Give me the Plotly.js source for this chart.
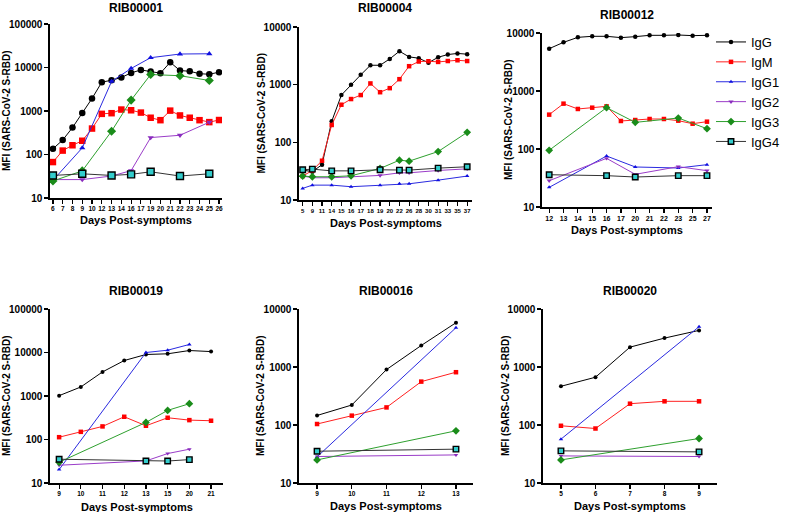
<!DOCTYPE html>
<html>
<head>
<meta charset="utf-8">
<script src="https://cdn.plot.ly/plotly-3.0.1.min.js"></script>
<style>html,body{margin:0;padding:0;background:#fff}#chart{width:785px;height:512px}</style>
</head>
<body>
<div id="chart"></div>
<script>
// ---------- DATA ----------
const seriesNames = ['IgG','IgM','IgG1','IgG2','IgG3','IgG4'];
const panelTitles = ['RIB00001','RIB00004','RIB00012','RIB00019','RIB00016','RIB00020'];

const p1Days = ['6','7','8','9','10','12','13','14','16','17','19','20','21','22','23','24','25','26'];
const p1IgG  = [135,215,415,905,1940,4600,5100,5900,7500,8800,8100,7400,13200,8500,8200,7200,7000,7800];
const p1IgM  = [67,123,163,207,395,860,890,1080,1040,920,700,615,1020,790,700,615,555,620];
const p1IgG1 = [25.5,null,null,142,null,null,4780,null,9500,null,16800,null,null,20400,null,null,20700,null];
const p1IgG2 = [26.5,null,null,26.5,null,null,32,null,42.6,null,245,null,null,277,null,null,553,null];
const p1IgG3 = [24.6,null,null,42,null,null,343,null,1780,null,6900,null,null,6470,null,null,5030,null];
const p1IgG4 = [33,null,null,36,null,null,33,null,35,null,40,null,null,32,null,null,36,null];

const p2Days = ['5','9','11','14','15','16','17','18','19','20','22','26','28','30','31','33','35','37'];
const p2IgG  = [33,31,41,231,660,1000,1480,2170,2170,2800,3800,3030,2880,2400,2990,3330,3480,3380];
const p2IgM  = [26,32.5,48,200,449,563,660,1050,740,870,1245,2090,2520,2550,2480,2570,2650,2570];
const p2IgG1 = [15.9,18.1,null,18.1,null,17,null,null,18,null,19.1,19.1,null,null,22.1,null,null,26];
const p2IgG2 = [26,24.3,null,24.3,null,25,null,null,26.7,null,29.6,29.6,null,null,32.5,null,null,34.7];
const p2IgG3 = [26,25.3,null,25.3,null,26.3,null,null,35.2,null,49,47.2,null,null,69.2,null,null,149];
const p2IgG4 = [33.4,34.3,null,32,null,32,null,null,33.4,null,33,33,null,null,35.7,null,null,37.7];

const p3Days = ['12','13','14','15','16','17','20','21','22','23','25','27'];
const p3IgG  = [5370,6900,8420,8770,8770,8320,8650,9120,9120,9240,9000,9120];
const p3IgM  = [391,605,490,516,544,304,316,329,329,308,273,296];
const p3IgG1 = [21.8,null,null,null,75.7,null,49,null,null,47,null,53.7];
const p3IgG2 = [28.4,null,null,null,69,null,36.6,null,null,49.6,null,42.3];
const p3IgG3 = [95,null,null,null,516,null,288,null,null,342,null,224];
const p3IgG4 = [36,null,null,null,34.7,null,32.9,null,null,34.7,null,34.7];

const p4Days = ['9','10','11','12','13','15','20','21'];
const p4IgG  = [1018,1613,3580,6540,9000,9330,11100,10500];
const p4IgM  = [113,150,200,333,207,316,279,270];
const p4IgG1 = [20.3,null,null,null,10000,11300,15300,null];
const p4IgG2 = [25.6,null,null,null,32.2,47.5,59.8,null];
const p4IgG3 = [30,null,null,null,247,467,665,null];
const p4IgG4 = [35.2,null,null,null,32,32,34.5,null];

const p5Days = ['9','10','11','12','13'];
const p5IgG  = [146,221,904,2350,5800];
const p5IgM  = [104,145,201,560,813];
const p5IgG1 = [28.2,null,null,null,4760];
const p5IgG2 = [28.6,null,null,null,30.5];
const p5IgG3 = [25,null,null,null,79.4];
const p5IgG4 = [35.3,null,null,null,38.3];

const p6Days = ['5','6','7','8','9'];
const p6IgG  = [465,666,2200,3150,4280];
const p6IgM  = [97,87,233,256,256];
const p6IgG1 = [57,null,null,null,4950];
const p6IgG2 = [29.3,null,null,null,28.6];
const p6IgG3 = [25,null,null,null,58.5];
const p6IgG4 = [35.8,null,null,null,34.4];

const yTickVals = [10,100,1000,10000,100000];
const yTickText = ['10','100','1000','10000','100000'];

// ---------- STYLE ----------
const FONT = 'Liberation Sans, Arial, sans-serif';
const W = 785, H = 512;
const styles = [
  {line:'#000000', fill:'#000000', border:'#000000', symbol:'circle'},
  {line:'#ff2020', fill:'#ff0000', border:'#ff0000', symbol:'square'},
  {line:'#2a2ae0', fill:'#1010e0', border:'#1010e0', symbol:'triangle-up'},
  {line:'#9a3cc8', fill:'#8a2cbe', border:'#8a2cbe', symbol:'triangle-down'},
  {line:'#2ea02e', fill:'#1a8c1a', border:'#1a8c1a', symbol:'diamond'},
  {line:'#333333', fill:'#33cccc', border:'#000000', symbol:'square'}
];

const panels = [
  {days:p1Days, s:[p1IgG,p1IgM,p1IgG1,p1IgG2,p1IgG3,p1IgG4], px:[50,222], py:[24,198], yr:[1,5], xr:[-0.3,17.3], ms:[6.5,6.5,5.5,5.5,7,7], tx:136, ty:8, ytx:6, xtY:220, tickF:6.5},
  {days:p2Days, s:[p2IgG,p2IgM,p2IgG1,p2IgG2,p2IgG3,p2IgG4], px:[299,472], py:[27,200], yr:[1,4], xr:[-0.38,17.5], ms:[4.5,4.5,4,4.5,6,5.5], tx:385, ty:8, ytx:261, xtY:223, tickF:6},
  {days:p3Days, s:[p3IgG,p3IgM,p3IgG1,p3IgG2,p3IgG3,p3IgG4], px:[542,712], py:[33,207], yr:[1,4], xr:[-0.5,11.35], ms:[4.5,4.5,4,4.5,6,5.5], tx:627, ty:15, ytx:508, xtY:230, tickF:7},
  {days:p4Days, s:[p4IgG,p4IgM,p4IgG1,p4IgG2,p4IgG3,p4IgG4], px:[50,223], py:[309,483], yr:[1,5], xr:[-0.42,7.55], ms:[4,4.5,4,4,6,5.5], tx:136, ty:291, ytx:6, xtY:507, tickF:6.5},
  {days:p5Days, s:[p5IgG,p5IgM,p5IgG1,p5IgG2,p5IgG3,p5IgG4], px:[299,473], py:[309,483], yr:[1,4], xr:[-0.52,4.49], ms:[4,4.5,4,4,6,5.5], tx:386, ty:291, ytx:260, xtY:506, tickF:6.5},
  {days:p6Days, s:[p6IgG,p6IgM,p6IgG1,p6IgG2,p6IgG3,p6IgG4], px:[543,717], py:[309,483], yr:[1,4], xr:[-0.52,4.52], ms:[4,4.5,4,4,6,5.5], tx:630, ty:291, ytx:505, xtY:506, tickF:6.5}
];

const data = [];
const layout = {
  width: W, height: H,
  margin: {l:0, r:0, t:0, b:0},
  paper_bgcolor: '#ffffff', plot_bgcolor: '#ffffff',
  font: {family: FONT, color: '#000'},
  showlegend: true,
  legend: {x: 1, y: 1 - 27/H, xanchor:'right', yanchor:'top', font:{family:FONT, size:13, color:'#000'}, bgcolor:'rgba(0,0,0,0)', tracegroupgap:0, borderwidth:0},
  annotations: []
};

panels.forEach((p, i) => {
  const k = i === 0 ? '' : String(i + 1);
  const xa = 'x' + k, ya = 'y' + k;
  p.s.forEach((vals, j) => {
    const st = styles[j];
    data.push({
      type:'scatter', mode:'lines+markers',
      x: p.days, y: vals, xaxis: xa, yaxis: ya,
      name: seriesNames[j], connectgaps: true,
      showlegend: i === 2, legendgroup: seriesNames[j],
      line: {color: st.line, width: 1},
      marker: {symbol: st.symbol, size: p.ms[j], color: st.fill, line: {color: st.border, width: j === 5 ? 1.4 : 0}}
    });
  });
  layout['xaxis' + k] = {
    domain: [p.px[0]/W, p.px[1]/W], anchor: ya,
    type: 'category', categoryorder: 'array', categoryarray: p.days,
    range: p.xr, showgrid: false, zeroline: false,
    showline: true, linecolor: '#000', linewidth: 1.6,
    ticks: 'outside', ticklen: 4, tickwidth: 1.2, tickcolor: '#000',
    tickangle: 0,
    tickfont: {family: FONT, size: p.tickF, weight: 'bold', color: '#000'},
    fixedrange: true
  };
  layout['yaxis' + k] = {
    domain: [1 - p.py[1]/H, 1 - p.py[0]/H], anchor: xa,
    type: 'log', range: p.yr, showgrid: false, zeroline: false,
    showline: true, linecolor: '#000', linewidth: 1.6,
    ticks: 'outside', ticklen: 4, tickwidth: 1.4, tickcolor: '#000',
    tickvals: yTickVals, ticktext: yTickText,
    tickfont: {family: FONT, size: 10, weight: 'bold', color: '#000'},
    fixedrange: true
  };
  layout.annotations.push({text: panelTitles[i], xref:'paper', yref:'paper', x: p.tx/W, y: 1 - p.ty/H,
    xanchor:'center', yanchor:'middle', showarrow:false, font:{family:FONT, size:12, weight:'bold', color:'#000'}});
  layout.annotations.push({text: 'MFI (SARS-CoV-2 S-RBD)', xref:'paper', yref:'paper', x: p.ytx/W, y: 1 - ((p.py[0]+p.py[1])/2)/H,
    xanchor:'center', yanchor:'middle', textangle:-90, showarrow:false, font:{family:FONT, size:10, weight:'bold', color:'#000'}});
  layout.annotations.push({text: 'Days Post-symptoms', xref:'paper', yref:'paper', x: ((p.px[0]+p.px[1])/2)/W, y: 1 - p.xtY/H,
    xanchor:'center', yanchor:'middle', showarrow:false, font:{family:FONT, size:11, weight:'bold', color:'#000'}});
});

Plotly.newPlot('chart', data, layout, {displayModeBar: false, staticPlot: true});
</script>
</body>
</html>
